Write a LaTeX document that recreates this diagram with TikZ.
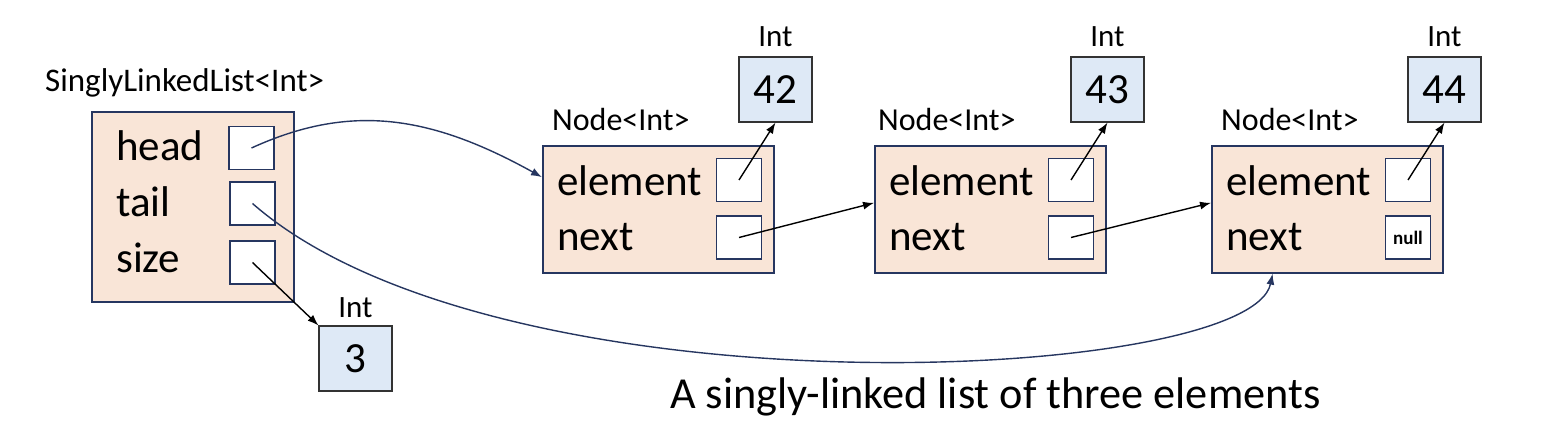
\documentclass[tikz,border=0pt]{standalone}
\usepackage{fontspec}
\setmainfont{Carlito}
\usepackage{tikz}
\usetikzlibrary{arrows.meta,calc}
\usepackage{xcolor}
\definecolor{ObjNavy}{RGB}{38,54,96}
\definecolor{ObjPeach}{RGB}{249,229,215}
\definecolor{ObjBlue}{RGB}{222,233,246}
\begin{document}
\begin{tikzpicture}[x=1pt,y=-1pt,
  obj/.style={draw=ObjNavy,fill=ObjPeach,line width=1.6pt,anchor=north west,inner sep=0pt},
  slot/.style={draw=ObjNavy,fill=white,line width=1.6pt,minimum width=45pt,minimum height=43pt,inner sep=0pt},
  intbox/.style={draw=black!80,fill=ObjBlue,line width=1.1pt,minimum width=73pt,minimum height=65pt,
                 inner sep=0pt,font=\fontsize{43}{50}\selectfont},
  field/.style={anchor=base west,inner sep=0pt,font=\fontsize{43}{50}\selectfont},
  tname/.style={anchor=base west,inner sep=0pt,font=\fontsize{32}{38}\selectfont},
  tlabel/.style={anchor=base,inner sep=0pt,font=\fontsize{31}{36}\selectfont},
  ptr/.style={-{Latex[length=11pt,width=8pt]},line width=1.4pt},
]
\useasboundingbox (0,0) rectangle (1558,444);
% the list object
\node[tname,font=\fontsize{33}{38}\selectfont] (lname) at (45,92) {SinglyLinkedList<Int>};
\node[obj,minimum width=202pt,minimum height=190pt] (list) at (91,111) {};
\node[field] (fhead) at (116,160) {head};
\node[field] (ftail) at (116,216) {tail};
\node[field] (fsize) at (116,272) {size};
\node[slot] (hslot) at (251.5,148) {};
\node[slot] (tslot) at (252.5,203.5) {};
\node[slot] (sslot) at (252.5,262.5) {};
\node[tlabel] (sint) at (355.5,317) {Int};
\node[intbox] (size) at (355.5,358.5) {3};
% the three Node objects
\foreach \n/\x/\v/\dx in {1/542/42/10,2/874/43/4,3/1211/44/10}{
  \node[tname] (nname\n) at (\x+\dx,130) {Node<Int>};
  \node[obj,minimum width=231pt,minimum height=127pt] (n\n) at (\x,145) {};
  \node[field] (fel\n) at (\x+15,195) {element};
  \node[field] (fnx\n) at (\x+15,250) {next};
  \node[slot] (eslot\n) at (\x+197,180) {};
  \node[tlabel] (vint\n) at (\x+233.5,47) {Int};
  \node[intbox] (val\n) at (\x+233.5,89.5) {\v};
}
\node[slot] (nslot1) at (739,237.5) {};
\node[slot] (nslot2) at (1071,237.5) {};
\node[slot,font=\fontsize{19}{22}\selectfont\bfseries] (nslot3) at (1408,237.5) {null};
\node[anchor=base west,inner sep=0pt,font=\fontsize{44.3}{52}\selectfont] (caption) at (670,408)
  {A singly-linked list of three elements};
% pointers
\draw[ptr,ObjNavy] (hslot.center) .. controls (350,103) and (430,115) .. ($(n1.north west)!0.25!(n1.south west)$);
\draw[ptr,ObjNavy] (tslot.center) .. controls (500,420) and (1250,383) .. ($(n3.south west)!0.265!(n3.south east)$);
\draw[ptr] (sslot.center) -- (size.north west);
\foreach \n in {1,2,3}{
  \draw[ptr] (eslot\n.center) -- (val\n.south);
}
\draw[ptr] (nslot1.center) -- ($(n2.north west)!0.45!(n2.south west)$);
\draw[ptr] (nslot2.center) -- ($(n3.north west)!0.45!(n3.south west)$);
\end{tikzpicture}
\end{document}
